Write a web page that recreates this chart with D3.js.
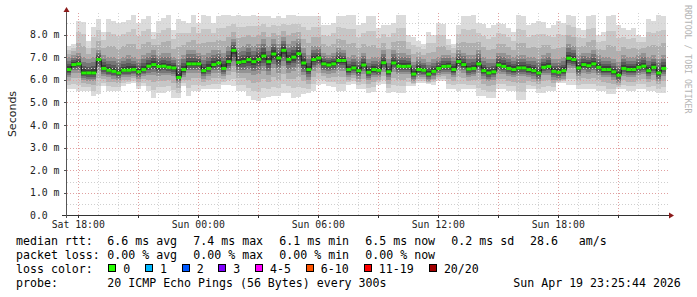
<!DOCTYPE html>
<html><head><meta charset="utf-8">
<script src="https://cdn.jsdelivr.net/npm/d3@7"></script>
<style>
body{margin:0;background:#fff}
svg{display:block}
text{font-family:"DejaVu Sans Mono",monospace}
</style>
</head><body><svg id="c" width="697" height="297"></svg>
<script>
const startTime = new Date(2026,3,18,17,25);
const endTime = new Date(2026,3,19,23,25);
const stepMinutes = 15;

const medianRtt = [6.45,6.67,6.7,6.30,6.3,6.30,6.89,6.5,6.42,6.37,
 6.30,6.42,6.42,6.45,6.35,6.45,6.6,6.67,6.59,6.6,
 6.55,6.52,6.1,6.45,6.7,6.7,6.7,6.4,6.5,6.67,
 6.74,6.5,6.8,7.3,6.77,6.8,6.89,6.8,6.9,7.05,
 6.8,7.14,6.96,7.3,6.9,7.0,7.15,6.74,6.45,6.89,
 6.96,6.7,6.65,6.7,6.85,6.85,6.45,6.52,6.40,6.65,
 6.33,6.45,6.42,6.75,6.35,6.74,6.6,6.59,6.6,6.25,
 6.45,6.42,6.25,6.37,6.5,6.59,6.6,6.45,6.8,6.67,
 6.47,6.5,6.7,6.4,6.3,6.35,6.65,6.59,6.5,6.45,
 6.52,6.52,6.45,6.4,6.3,6.55,6.59,6.37,6.33,6.4,
 6.95,6.89,6.52,6.67,6.62,6.7,6.55,6.45,6.45,6.35,
 6.2,6.5,6.45,6.45,6.55,6.6,6.4,6.55,6.3,6.5];

const maxRtt = [7.47,7.6,8.6,8.57,7.7,8.35,8.7,8.1,8.7,8.6,
 8.5,8.57,8.65,8.88,8.5,8.7,8.8,8.1,8.6,8.75,
 8.88,8.2,8.7,8.6,8.5,8.88,8.5,8.88,8.8,8.5,
 8.8,8.88,8.85,8.8,8.85,8.8,8.8,8.85,8.8,8.8,
 8.8,8.75,8.8,8.75,8.85,8.88,8.8,8.8,8.8,8.8,
 8.8,8.4,8.4,8.5,8.8,8.8,8.88,8.85,8.4,8.5,
 8.8,8.8,8.3,8.4,8.4,8.5,8.85,8.88,8.0,7.9,
 7.7,7.6,8.1,8.0,8.5,8.45,7.8,7.6,8.4,8.8,
 8.8,8.85,8.5,8.45,8.3,8.4,8.5,8.45,8.3,8.1,
 8.85,8.8,8.4,8.5,8.6,8.55,8.3,8.4,8.6,8.5,
 8.88,8.8,8.3,8.2,8.8,8.85,8.0,8.1,8.8,8.85,
 8.4,8.3,8.2,8.3,8.0,7.9,8.7,8.6,8.85,8.8];

const minRtt = [5.57,5.57,5.5,5.5,5.5,5.27,5.35,5.71,5.5,5.49,
 5.5,5.71,5.8,5.86,5.57,5.71,5.49,5.2,5.42,5.42,
 5.49,5.2,5.2,5.71,5.27,5.49,5.5,5.57,5.57,5.57,
 5.57,5.79,5.79,5.71,5.5,5.49,5.27,5.1,5.05,5.2,
 5.25,5.27,5.3,5.42,5.4,5.2,5.25,5.35,5.4,5.49,
 5.79,5.8,5.71,5.7,5.49,5.5,5.79,5.8,5.6,5.6,
 5.42,5.45,5.79,5.8,5.42,5.45,5.42,5.42,5.71,5.71,
 5.86,5.86,5.8,5.79,5.93,5.93,5.57,5.57,5.49,5.57,
 5.57,5.57,5.27,5.27,5.2,5.2,5.57,5.57,5.49,5.49,
 5.1,5.1,5.57,5.57,5.42,5.42,5.49,5.49,5.86,5.86,
 5.79,5.79,5.57,5.57,5.57,5.57,5.49,5.49,5.35,5.35,
 5.57,5.57,5.49,5.49,5.57,5.57,5.49,5.49,5.42,5.42];

const p75Rtt = [7.0,7.1,7.2,7.0,6.9,7.0,7.3,7.1,7.0,7.0,
 6.9,7.0,7.1,7.0,6.9,7.1,7.2,7.3,7.1,7.2,
 7.2,7.0,6.9,7.1,7.3,7.3,7.2,7.1,7.2,7.3,
 7.3,7.2,7.5,7.8,7.4,7.5,7.6,7.5,7.6,7.8,
 7.5,7.8,7.6,7.9,7.6,7.7,7.8,7.4,7.1,7.5,
 7.5,7.2,7.1,7.2,7.4,7.3,7.0,7.1,7.0,7.2,
 6.9,7.0,7.0,7.3,6.9,7.3,7.2,7.2,7.1,6.8,
 7.0,6.9,6.8,6.9,7.0,7.1,7.1,7.0,7.3,7.2,
 7.1,7.1,7.3,7.0,6.9,6.9,7.2,7.2,7.1,7.0,
 7.1,7.1,7.0,7.0,6.9,7.1,7.2,6.9,6.9,7.0,
 7.6,7.5,7.1,7.2,7.2,7.3,7.1,7.0,7.0,6.9,
 6.8,7.1,7.0,7.0,7.1,7.2,7.0,7.1,6.9,7.1];

const p25Rtt = [6.1,6.3,6.3,6.0,5.95,5.95,6.4,6.15,6.1,6.05,
 6.0,6.1,6.1,6.15,6.05,6.15,6.2,6.2,6.15,6.2,
 6.2,6.15,5.85,6.1,6.3,6.3,6.3,6.05,6.15,6.3,
 6.3,6.15,6.4,6.6,6.3,6.3,6.3,6.2,6.25,6.4,
 6.2,6.5,6.3,6.6,6.3,6.4,6.5,6.2,6.0,6.4,
 6.5,6.3,6.25,6.3,6.4,6.4,6.1,6.2,6.05,6.25,
 6.0,6.1,6.1,6.35,6.0,6.35,6.25,6.25,6.25,5.95,
 6.1,6.1,5.95,6.05,6.2,6.25,6.25,6.1,6.4,6.3,
 6.1,6.15,6.3,6.05,5.95,6.0,6.25,6.25,6.15,6.1,
 6.15,6.15,6.1,6.05,5.95,6.2,6.2,6.0,6.0,6.05,
 6.5,6.5,6.15,6.3,6.25,6.3,6.2,6.1,6.1,6.0,
 5.85,6.15,6.1,6.1,6.2,6.25,6.05,6.2,5.95,6.15];

const yTicks = [0,1,2,3,4,5,6,7,8];
const yTickLabels = ["0.0","1.0 m","2.0 m","3.0 m","4.0 m","5.0 m","6.0 m","7.0 m","8.0 m"];
const lossLabels = ["0","1","2","3","4-5","6-10","11-19","20/20"];
const lossColors = ["#26ff00","#00b8ff","#0059ff","#7e00ff","#ff00ff","#ff5500","#ff0000","#a10000"];
const rttStats = ["6.6 ms avg","7.4 ms max","6.1 ms min","6.5 ms now","0.2 ms sd"];
const rttRate = "28.6   am/s";
const lossStats = ["0.00 % avg","0.00 % max","0.00 % min","0.00 % now"];
const probeText = "20 ICMP Echo Pings (56 Bytes) every 300s";
const stampText = "Sun Apr 19 23:25:44 2026";

const svg = d3.select("#c");
svg.append("rect").attr("width",697).attr("height",297).attr("fill","#fff");

const x = d3.scaleTime().domain([startTime,endTime]).range([66.3,666.3]);
const y = d3.scaleLinear().domain([0,8]).range([215.5,34.5]);
const tAt = i => d3.timeMinute.offset(startTime, i*stepMinutes);
const idx = d3.range(medianRtt.length);
const lerp = (a,b,t)=>a+(b-a)*t;

// smoke layers
const layers = [
  {c:"#dbdbdb", lo:i=>minRtt[i], hi:i=>maxRtt[i]},
  {c:"#c6c6c6", lo:i=>lerp(minRtt[i],p25Rtt[i],0.35), hi:i=>lerp(maxRtt[i],p75Rtt[i],0.35)},
  {c:"#afafaf", lo:i=>lerp(minRtt[i],p25Rtt[i],0.7), hi:i=>lerp(maxRtt[i],p75Rtt[i],0.7)},
  {c:"#939393", lo:i=>p25Rtt[i], hi:i=>p75Rtt[i]},
  {c:"#767676", lo:i=>lerp(p25Rtt[i],medianRtt[i],0.3), hi:i=>lerp(p75Rtt[i],medianRtt[i],0.3)},
  {c:"#5a5a5a", lo:i=>lerp(p25Rtt[i],medianRtt[i],0.55), hi:i=>lerp(p75Rtt[i],medianRtt[i],0.55)},
  {c:"#3e3e3e", lo:i=>lerp(p25Rtt[i],medianRtt[i],0.75), hi:i=>lerp(p75Rtt[i],medianRtt[i],0.75)},
  {c:"#242424", lo:i=>lerp(p25Rtt[i],medianRtt[i],0.9), hi:i=>lerp(p75Rtt[i],medianRtt[i],0.9)}
];
const smoke = svg.append("g").attr("shape-rendering","crispEdges");
layers.forEach(L=>{
  smoke.append("g").selectAll("rect").data(idx).join("rect")
    .attr("x",i=>x(tAt(i)))
    .attr("width",i=>x(tAt(i+1))-x(tAt(i)))
    .attr("y",i=>y(L.hi(i)))
    .attr("height",i=>y(L.lo(i))-y(L.hi(i)))
    .attr("fill",L.c);
});

// grid
const grid = svg.append("g").attr("shape-rendering","crispEdges");
const gx0 = 67, gx1 = 668, gyTop = 13, gyBot = 215;
const minorY = d3.range(0.5,9,0.5).filter(v=>v%1!==0);
grid.selectAll(".hm").data(minorY).join("line")
  .attr("x1",gx0).attr("x2",gx1).attr("y1",d=>Math.round(y(d))+0.5).attr("y2",d=>Math.round(y(d))+0.5)
  .attr("stroke","#cfcfcf").attr("stroke-dasharray","1,2");
const hours = d3.timeHour.range(d3.timeHour.ceil(startTime), endTime);
grid.selectAll(".vm").data(hours.filter(h=>h.getHours()%3!==0)).join("line")
  .attr("x1",d=>Math.round(x(d))+0.5).attr("x2",d=>Math.round(x(d))+0.5).attr("y1",gyBot).attr("y2",gyTop)
  .attr("stroke","#d4d4d4").attr("stroke-dasharray","1,2");
grid.selectAll(".hM").data(yTicks.slice(1)).join("line")
  .attr("x1",gx0).attr("x2",gx1).attr("y1",d=>Math.round(y(d))+0.5).attr("y2",d=>Math.round(y(d))+0.5)
  .attr("stroke","#e0a0a0").attr("stroke-dasharray","1,2");
const majors = hours.filter(h=>h.getHours()%3===0);
grid.selectAll(".vM").data(majors).join("line")
  .attr("x1",d=>Math.round(x(d))+0.5).attr("x2",d=>Math.round(x(d))+0.5).attr("y1",gyBot).attr("y2",gyTop)
  .attr("stroke","#e0a0a0").attr("stroke-dasharray","1,2");

// median line
const med = svg.append("g");
let conn = "";
idx.forEach(i=>{ if(i>0){ conn += `M${x(tAt(i))},${y(medianRtt[i-1])}V${y(medianRtt[i])}`; } });
med.append("path").attr("d",conn).attr("stroke","#1a1a1a").attr("stroke-width",1).attr("fill","none");
med.selectAll("line").data(idx).join("line")
  .attr("x1",i=>x(tAt(i))).attr("x2",i=>x(tAt(i+1)))
  .attr("y1",i=>y(medianRtt[i])).attr("y2",i=>y(medianRtt[i]))
  .attr("stroke","#22f000").attr("stroke-width",3);

// axes
const ax = svg.append("g").attr("shape-rendering","crispEdges");
ax.append("line").attr("x1",62).attr("x2",670).attr("y1",215.5).attr("y2",215.5).attr("stroke","#333");
ax.append("line").attr("x1",66.5).attr("x2",66.5).attr("y1",218).attr("y2",11).attr("stroke","#555");
ax.selectAll(".yt").data(yTicks.slice(1)).join("line")
  .attr("x1",64).attr("x2",67).attr("y1",d=>Math.round(y(d))+0.5).attr("y2",d=>Math.round(y(d))+0.5).attr("stroke","#555");
ax.selectAll(".xt").data(majors).join("line")
  .attr("x1",d=>Math.round(x(d))+0.5).attr("x2",d=>Math.round(x(d))+0.5).attr("y1",215).attr("y2",218).attr("stroke","#333");
svg.append("path").attr("d","M669,212.5L674,215.5L669,218.5Z").attr("fill","#8b1a1a");
svg.append("path").attr("d","M63.5,12L66.5,7L69.5,12Z").attr("fill","#8b1a1a");

// tick labels
svg.selectAll(".yl").data(yTicks).join("text")
  .attr("x",30).attr("y",d=>y(d)+3.6).attr("font-size","9.8px").attr("fill","#222")
  .text((d,i)=>yTickLabels[i]);
const labelTimes = hours.filter(h=>h.getHours()%6===0);
const fmt = d3.timeFormat("%a %H:%M");
svg.selectAll(".xl").data(labelTimes).join("text")
  .attr("x",d=>x(d)+0.3).attr("y",227.5).attr("text-anchor","middle").attr("font-size","9.8px").attr("fill","#222")
  .text(d=>fmt(d));

// y title
svg.append("text").attr("transform","translate(15.5,114) rotate(-90)").attr("text-anchor","middle")
  .style("font-family","'DejaVu Sans',sans-serif").attr("font-size","11px").attr("fill","#222").text("Seconds");
// watermark
svg.append("text").attr("transform","translate(685,5) rotate(90)")
  .attr("font-size","8.2px").attr("fill","#b4b4b4").text("RRDTOOL / TOBI OETIKER");

// legend
const fs = "11.6px";
const L = svg.append("g").attr("font-size",fs).attr("fill","#000");
const colX = i => 107.3 + i*86;
L.append("text").attr("x",16).attr("y",244.5).text("median rtt:");
rttStats.forEach((s,i)=>L.append("text").attr("x",colX(i)).attr("y",244.5).text(s));
L.append("text").attr("x",530).attr("y",244.5).attr("xml:space","preserve").style("white-space","pre").text(rttRate);
L.append("text").attr("x",16).attr("y",258.5).text("packet loss:");
lossStats.forEach((s,i)=>L.append("text").attr("x",colX(i)).attr("y",258.5).text(s));
L.append("text").attr("x",16).attr("y",272.5).text("loss color:");
let sx = 108.3;
lossLabels.forEach((lab,i)=>{
  L.append("rect").attr("x",sx+0.5).attr("y",264.5).attr("width",7).attr("height",7)
    .attr("fill",lossColors[i]).attr("stroke","#000").attr("stroke-width",1).attr("shape-rendering","crispEdges");
  L.append("text").attr("x",sx+15).attr("y",272.5).text(lab);
  sx += 36.67 + (lab.length-1)*7.1;
});
L.append("text").attr("x",16).attr("y",286.5).text("probe:");
L.append("text").attr("x",107.3).attr("y",286.5).text(probeText);
L.append("text").attr("x",513.3).attr("y",286.5).text(stampText);
</script>
</body></html>
